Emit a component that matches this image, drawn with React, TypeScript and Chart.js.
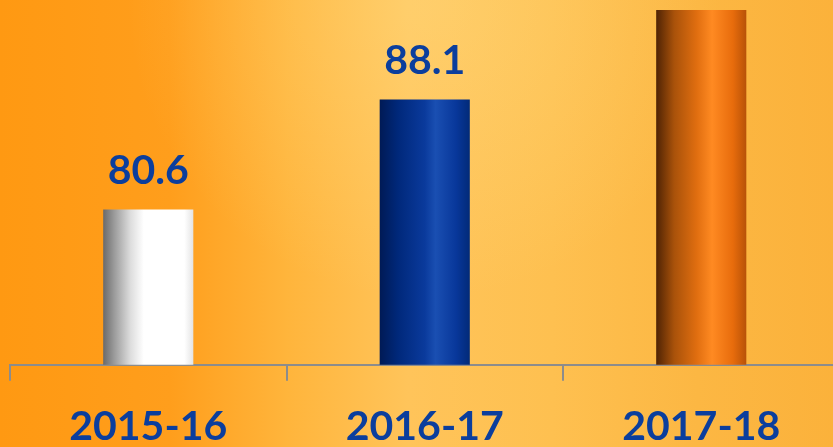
import React, { useEffect, useRef } from "react";
import { Chart, registerables } from "chart.js";

Chart.register(...registerables);

const categories = ["2015-16", "2016-17", "2017-18"];
const values = [80.6, 88.1, 94.2];
const valueLabels = ["80.6", "88.1", "94.2"];

const LABEL_BLUE = "#0b3e9d";
const AXIS_GRAY = "#8c8c8c";

const barStops: [number, string][][] = [
  [
    [0, "#6a6a6a"],
    [0.12, "#9a9a9a"],
    [0.3, "#dcdcdc"],
    [0.45, "#ffffff"],
    [0.9, "#ffffff"],
    [1, "#e4e4e4"],
  ],
  [
    [0, "#001a55"],
    [0.2, "#00287a"],
    [0.5, "#0a3a9c"],
    [0.62, "#1a4fb2"],
    [0.85, "#08379a"],
    [1, "#022a78"],
  ],
  [
    [0, "#4f2304"],
    [0.2, "#a9520a"],
    [0.45, "#e06e10"],
    [0.62, "#ff8a22"],
    [0.85, "#e86c0c"],
    [1, "#b85208"],
  ],
];

const BAR_FRACTION = 0.326;

const bgPlugin = {
  id: "bgPlugin",
  beforeDraw(chart: any) {
    const { ctx, width, height } = chart;
    ctx.save();
    const g = ctx.createLinearGradient(0, 0, width, 0);
    g.addColorStop(0, "#ff9912");
    g.addColorStop(0.2, "#ff9e1c");
    g.addColorStop(0.34, "#ffb53c");
    g.addColorStop(0.48, "#ffc45a");
    g.addColorStop(0.65, "#fec050");
    g.addColorStop(0.82, "#fcb743");
    g.addColorStop(1, "#fbb13a");
    ctx.fillStyle = g;
    ctx.fillRect(0, 0, width, height);
    const r = ctx.createRadialGradient(width * 0.5, height * 0.15, 10, width * 0.5, height * 0.15, width * 0.35);
    r.addColorStop(0, "rgba(255,225,140,0.35)");
    r.addColorStop(1, "rgba(255,225,140,0)");
    ctx.fillStyle = r;
    ctx.fillRect(0, 0, width, height);
    ctx.restore();
  },
};

const valueLabelPlugin = {
  id: "valueLabelPlugin",
  afterDatasetsDraw(chart: any) {
    const { ctx } = chart;
    const meta = chart.getDatasetMeta(0);
    ctx.save();
    ctx.font = "bold 41px Lato";
    ctx.fillStyle = LABEL_BLUE;
    ctx.textAlign = "center";
    ctx.textBaseline = "alphabetic";
    meta.data.forEach((bar: any, i: number) => {
      ctx.fillText(valueLabels[i], bar.x, bar.y - 25);
    });
    ctx.restore();
  },
};

export default function App() {
  const canvasRef = useRef<HTMLCanvasElement | null>(null);

  useEffect(() => {
    document.body.style.margin = "0";
    const canvas = canvasRef.current;
    if (!canvas) return;
    const chart = new Chart(canvas, {
      type: "bar",
      data: {
        labels: categories,
        datasets: [
          {
            data: values,
            categoryPercentage: 1,
            barPercentage: BAR_FRACTION,
            borderWidth: 0,
            backgroundColor: (context: any) => {
              const ch = context.chart;
              const area = ch.chartArea;
              const i = context.dataIndex;
              if (!area || !ch.scales || !ch.scales.x || i === undefined) return "#888";
              const xs = ch.scales.x;
              const cx = xs.getPixelForValue(i);
              const w = (xs.width / categories.length) * BAR_FRACTION;
              const g = ch.ctx.createLinearGradient(cx - w / 2, 0, cx + w / 2, 0);
              barStops[i].forEach(([o, c]) => g.addColorStop(o, c));
              return g;
            },
          },
        ],
      },
      options: {
        animation: false,
        responsive: false,
        maintainAspectRatio: false,
        layout: { padding: { left: 10, right: 10.5, top: 5, bottom: 0 } },
        plugins: {
          legend: { display: false },
          tooltip: { enabled: false },
          title: { display: false },
        },
        scales: {
          x: {
            offset: true,
            grid: {
              display: true,
              offset: true,
              drawOnChartArea: false,
              drawTicks: true,
              tickLength: 16,
              color: AXIS_GRAY,
              lineWidth: 2,
            },
            border: { display: true, color: AXIS_GRAY, width: 2 },
            ticks: {
              color: LABEL_BLUE,
              padding: 21,
              font: { family: "Lato", weight: "bold", size: 41 },
              maxRotation: 0,
              autoSkip: false,
            },
          },
          y: {
            display: false,
            min: 70,
            max: 100,
          },
        },
      },
      plugins: [bgPlugin, valueLabelPlugin],
    });
    return () => chart.destroy();
  }, []);

  return (
    <div
      style={{
        position: "fixed",
        left: 0,
        top: 0,
        width: 833,
        height: 447,
        overflow: "hidden",
        background: "#ffa726",
      }}
    >
      <canvas
        ref={canvasRef}
        width={850}
        height={552}
        style={{ position: "absolute", left: 0, top: -80, display: "block" }}
      />
    </div>
  );
}
